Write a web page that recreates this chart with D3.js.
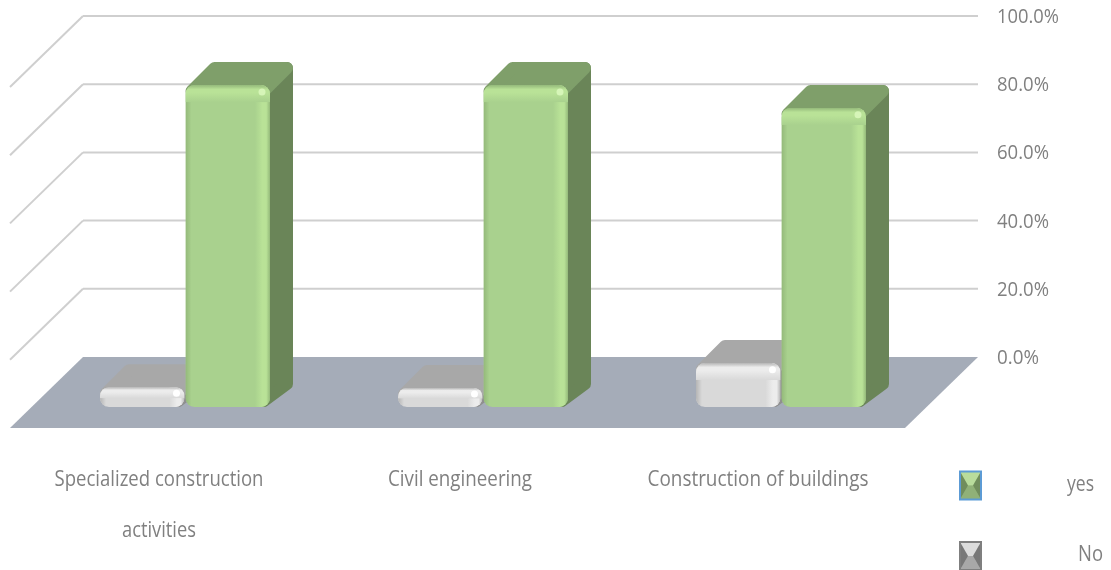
<!DOCTYPE html>
<html>
<head>
<meta charset="utf-8">
<script src="https://d3js.org/d3.v7.min.js"></script>
<style>
html, body { margin: 0; padding: 0; background: #fff; }
svg { display: block; }
text { font-family: "Open Sans", sans-serif; fill: #808080; }
</style>
</head>
<body>
<div id="svg"></div>
<script>
var categories = ["Specialized construction activities", "Civil engineering", "Construction of buildings"];
var seriesNames = ["No", "yes"];
var noValues = [5.8, 5.6, 12.9];
var yesValues = [94.4, 94.4, 87.7];
var tickValues = [0, 20, 40, 60, 80, 100];

// label widths measured on the picture, the font there is squeezed
var catLines = [["Specialized construction", "activities"], ["Civil engineering"], ["Construction of buildings"]];
var catLineWidths = [[209, 74], [144], [221]];
var catLabelShift = [121, 124, 124];

var width = 1111, height = 570;
var depth = 23;          // bar depth
var floorDx = -73, floorDy = 71;

var colors = {
	No: { front: "#d9d9d9", top: "#a8a8a8", side: "#8f8f8f", shine: "#ececec", edge: "#b5b5b5", spot: "#ffffff" },
	yes: { front: "#a9d18e", top: "#7f9f6a", side: "#6b8559", shine: "#b9e297", edge: "#94b97a", spot: "#d6f5b8" }
};

var svg = d3.select("div#svg")
	.append("svg")
	.attr("width", width)
	.attr("height", height);

var defs = svg.append("defs");
defs.append("filter").attr("id", "soft").append("feGaussianBlur").attr("stdDeviation", 0.7);
defs.append("filter").attr("id", "softText").append("feGaussianBlur").attr("stdDeviation", 0.4);

seriesNames.forEach(function (s) {
	var c = colors[s];
	var g = defs.append("linearGradient").attr("id", "topBevel" + s)
		.attr("x1", 0).attr("y1", 0).attr("x2", 0).attr("y2", 1);
	g.append("stop").attr("offset", "0%").attr("stop-color", c.edge);
	g.append("stop").attr("offset", "25%").attr("stop-color", c.shine);
	g.append("stop").attr("offset", "45%").attr("stop-color", c.shine);
	g.append("stop").attr("offset", "100%").attr("stop-color", c.front);
	var r = defs.append("linearGradient").attr("id", "rightBevel" + s)
		.attr("x1", 0).attr("y1", 0).attr("x2", 1).attr("y2", 0);
	r.append("stop").attr("offset", "0%").attr("stop-color", c.front);
	r.append("stop").attr("offset", "50%").attr("stop-color", c.shine);
	r.append("stop").attr("offset", "75%").attr("stop-color", c.shine);
	r.append("stop").attr("offset", "100%").attr("stop-color", c.edge);
	var l = defs.append("linearGradient").attr("id", "leftBevel" + s)
		.attr("x1", 0).attr("y1", 0).attr("x2", 1).attr("y2", 0);
	l.append("stop").attr("offset", "0%").attr("stop-color", c.edge);
	l.append("stop").attr("offset", "100%").attr("stop-color", c.front);
});

// scales, wall is the back plane and front is the plane of the bar faces
var yWall = d3.scaleLinear().domain([0, 100]).range([357, 16]);
var yFront = d3.scaleLinear().domain([0, 100]).range([407, 66]);
var x0 = d3.scaleBand().domain(categories).range([38, 932]);
var x1 = d3.scaleBand().domain(seriesNames).range([62, 232]).paddingInner(0.012);

var chart = svg.append("g").attr("filter", "url(#soft)");

// gridlines, back wall and left wall
chart.selectAll("line.grid")
	.data(tickValues.filter(function (d) { return d > 0; }))
	.enter()
	.append("line")
	.attr("class", "grid")
	.attr("x1", 83)
	.attr("y1", function (d) { return yWall(d); })
	.attr("x2", 978)
	.attr("y2", function (d) { return yWall(d); })
	.attr("stroke", "#cfcfcf")
	.attr("stroke-width", 2);

chart.selectAll("line.side")
	.data(tickValues.filter(function (d) { return d > 0; }))
	.enter()
	.append("line")
	.attr("class", "side")
	.attr("x1", 83)
	.attr("y1", function (d) { return yWall(d); })
	.attr("x2", 83 + floorDx)
	.attr("y2", function (d) { return yWall(d) + floorDy; })
	.attr("stroke", "#cfcfcf")
	.attr("stroke-width", 2);

// floor
chart.append("polygon")
	.attr("points", [
		[83, yWall(0)], [978, yWall(0)],
		[978 + floorDx, yWall(0) + floorDy], [83 + floorDx, yWall(0) + floorDy]
	].join(" "))
	.attr("fill", "#a5acb8");

// bars
var bars = [];
seriesNames.forEach(function (s) {
	var vals = s === "No" ? noValues : yesValues;
	categories.forEach(function (c, i) {
		bars.push({ series: s, cat: c, value: vals[i] });
	});
});

function drawBar(d) {
	var g = d3.select(this);
	var c = colors[d.series];
	var left = x0(d.cat) + x1(d.series);
	var w = x1.bandwidth();
	var right = left + w;
	var top = yFront(d.value);
	var base = yFront(0);
	var inset = 6;

	// side face
	g.append("polygon")
		.attr("points", [
			[right - inset, base - inset], [right + depth - inset, base - depth],
			[right + depth - inset, top - depth + inset], [right - inset, top + inset]
		].join(" "))
		.attr("fill", c.side)
		.attr("stroke", c.side)
		.attr("stroke-width", inset * 2)
		.attr("stroke-linejoin", "round");

	// top face
	g.append("polygon")
		.attr("points", [
			[left + inset, top + inset], [left + depth + inset, top - depth + inset],
			[right + depth - inset, top - depth + inset], [right - inset, top + inset]
		].join(" "))
		.attr("fill", c.top)
		.attr("stroke", c.top)
		.attr("stroke-width", inset * 2)
		.attr("stroke-linejoin", "round");

	// front face with its bevels
	var clipId = "clip" + d.series + categories.indexOf(d.cat);
	defs.append("clipPath").attr("id", clipId)
		.append("rect")
		.attr("x", left).attr("y", top)
		.attr("width", w).attr("height", base - top)
		.attr("rx", 9);

	var bevel = Math.min(17, (base - top) * 0.55);
	var face = g.append("g").attr("clip-path", "url(#" + clipId + ")");
	face.append("rect")
		.attr("x", left).attr("y", top)
		.attr("width", w).attr("height", base - top)
		.attr("fill", c.front);
	face.append("rect")
		.attr("x", left).attr("y", top)
		.attr("width", 6).attr("height", base - top)
		.attr("fill", "url(#leftBevel" + d.series + ")");
	face.append("rect")
		.attr("x", right - 15).attr("y", top)
		.attr("width", 15).attr("height", base - top)
		.attr("fill", "url(#rightBevel" + d.series + ")");
	face.append("rect")
		.attr("x", left).attr("y", top)
		.attr("width", w).attr("height", bevel)
		.attr("fill", "url(#topBevel" + d.series + ")");
	face.append("circle")
		.attr("cx", right - 8).attr("cy", top + Math.max(6, bevel * 0.4))
		.attr("r", 3.5)
		.attr("fill", c.spot);
}

chart.selectAll("g.bar")
	.data(bars)
	.enter()
	.append("g")
	.attr("class", "bar")
	.each(drawBar);

var labels = svg.append("g").attr("filter", "url(#softText)");

// value axis on the right
var yAxis = d3.axisRight(yWall)
	.tickValues(tickValues)
	.tickSize(0)
	.tickPadding(0)
	.tickFormat(function (d) { return d.toFixed(1) + "%"; });

var axisG = labels.append("g")
	.attr("transform", "translate(997,0)")
	.call(yAxis);
axisG.select(".domain").remove();
axisG.selectAll("text")
	.attr("font-family", "Open Sans")
	.attr("font-size", 20)
	.attr("fill", "#808080")
	.attr("textLength", function (d) { return d === 100 ? 62 : d === 0 ? 42 : 52; })
	.attr("lengthAdjust", "spacingAndGlyphs");

// category labels
categories.forEach(function (c, i) {
	catLines[i].forEach(function (line, j) {
		labels.append("text")
			.text(line)
			.attr("x", x0(c) + catLabelShift[i])
			.attr("y", 486 + j * 51)
			.attr("text-anchor", "middle")
			.attr("font-size", 22)
			.attr("textLength", catLineWidths[i][j])
			.attr("lengthAdjust", "spacingAndGlyphs");
	});
});

// legend, little bevelled pyramids
var legendNames = ["yes", "No"];
var legendTextX = [1067, 1078];
var legendTextW = [27, 25];
var legendY = d3.scalePoint().domain(legendNames).range([485.5, 556]);
var legendShades = {
	yes: ["#b9dc9c", "#90b178", "#a3c788", "#6f8d5b"],
	No: ["#dcdcdc", "#a8a8a8", "#c4c4c4", "#787878"]
};

legendNames.forEach(function (s, i) {
	var cy = legendY(s), l = 960, r = 981, t = cy - 14, b = cy + 14, m = 8;
	var g = svg.append("g").attr("filter", "url(#softText)");
	var sh = legendShades[s];
	g.append("rect").attr("x", l).attr("y", t).attr("width", r - l).attr("height", b - t).attr("fill", sh[2]);
	g.append("polygon").attr("points", [[l, t], [r, t], [r - m, cy], [l + m, cy]].join(" ")).attr("fill", sh[0]);
	g.append("polygon").attr("points", [[l, b], [r, b], [r - m, cy], [l + m, cy]].join(" ")).attr("fill", sh[1]);
	g.append("polygon").attr("points", [[l, t], [l + m, cy], [l, b]].join(" ")).attr("fill", sh[3]);
	g.append("polygon").attr("points", [[r, t], [r - m, cy], [r, b]].join(" ")).attr("fill", sh[3]);
	g.append("rect").attr("x", l).attr("y", t).attr("width", r - l).attr("height", b - t)
		.attr("fill", "none")
		.attr("stroke", s === "yes" ? "#5b9bd5" : "#7f7f7f")
		.attr("stroke-width", 2);

	labels.append("text")
		.text(s)
		.attr("x", legendTextX[i])
		.attr("y", cy + 5)
		.attr("font-size", 22)
		.attr("textLength", legendTextW[i])
		.attr("lengthAdjust", "spacingAndGlyphs");
});
</script>
</body>
</html>
